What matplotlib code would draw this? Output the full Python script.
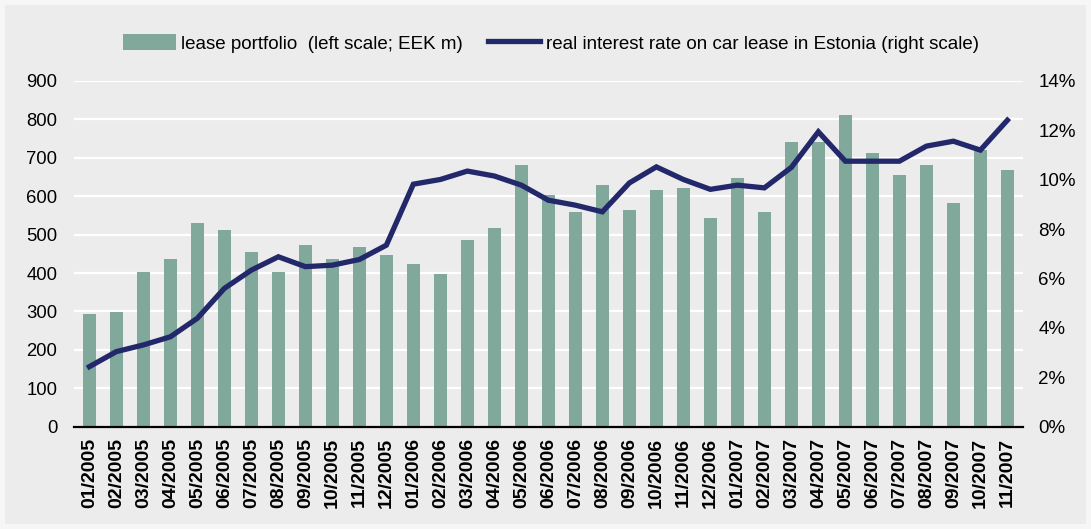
import numpy as np
import matplotlib.pyplot as plt
from matplotlib.ticker import FuncFormatter

# months shown on the x axis
months = ["01/2005", "02/2005", "03/2005", "04/2005", "05/2005", "06/2005",
          "07/2005", "08/2005", "09/2005", "10/2005", "11/2005", "12/2005",
          "01/2006", "02/2006", "03/2006", "04/2006", "05/2006", "06/2006",
          "07/2006", "08/2006", "09/2006", "10/2006", "11/2006", "12/2006",
          "01/2007", "02/2007", "03/2007", "04/2007", "05/2007", "06/2007",
          "07/2007", "08/2007", "09/2007", "10/2007", "11/2007"]

# lease portfolio, EEK m (left scale)
portfolio = [293, 298, 402, 436, 530, 512, 454, 402, 473, 436, 467, 447,
             423, 397, 486, 517, 681, 603, 558, 629, 564, 616, 621, 543,
             647, 558, 741, 741, 811, 712, 655, 681, 582, 720, 668]

# real interest rate on car lease, % (right scale)
rate = [2.43, 3.04, 3.31, 3.64, 4.39, 5.6, 6.34, 6.88, 6.48, 6.54, 6.77, 7.35,
        9.82, 10.01, 10.35, 10.15, 9.78, 9.17, 8.97, 8.70, 9.87, 10.52, 10.01, 9.61,
        9.78, 9.67, 10.5, 11.94, 10.75, 10.75, 10.75, 11.36, 11.56, 11.2, 12.41]

bg = "#ECECEC"
bar_col = "#80A99C"
line_col = "#23286B"

plt.rcParams['font.family'] = ['Liberation Sans', 'DejaVu Sans']

fig = plt.figure(figsize=(10.91, 5.29), dpi=100, facecolor=bg)
fig.patch.set_edgecolor('#F6F6F6')
fig.patch.set_linewidth(6)
ax = fig.add_axes([0.0678, 0.1934, 0.8699, 0.6536], facecolor=bg)
x = np.arange(len(months))

ax.bar(x, portfolio, width=0.48, color=bar_col, zorder=2,
       label="lease portfolio  (left scale; EEK m)")
ax.set_ylim(0, 900)
ax.set_yticks(np.arange(0, 901, 100))
ax.set_xlim(-0.57, len(months) - 0.42)
ax.set_xticks(x)
ax.set_xticklabels(months, rotation=90, fontweight='bold')
ax.grid(axis='y', color='white', linewidth=1.6, zorder=0)
ax.set_axisbelow(True)
ax.tick_params(axis='both', length=0)
ax.tick_params(axis='y', labelsize=13.3, pad=12)
ax.tick_params(axis='x', labelsize=14, pad=8)
for s in ['top', 'left', 'right']:
    ax.spines[s].set_visible(False)
ax.spines['bottom'].set_color('black')
ax.spines['bottom'].set_linewidth(1.6)
ax.spines['bottom'].set_zorder(4)

ax2 = ax.twinx()
ax2.plot(x, rate, color=line_col, linewidth=3.8, solid_joinstyle='miter', zorder=3,
         label="real interest rate on car lease in Estonia (right scale)")
ax2.set_ylim(0, 14)
ax2.set_yticks(np.arange(0, 15, 2))
ax2.yaxis.set_major_formatter(FuncFormatter(lambda v, p: f"{v:.0f}%"))
ax2.tick_params(axis='y', length=0, labelsize=13.5, pad=11)
for s in ['top', 'left', 'right', 'bottom']:
    ax2.spines[s].set_visible(False)

h1, l1 = ax.get_legend_handles_labels()
h2, l2 = ax2.get_legend_handles_labels()
fig.legend(h1 + h2, l1 + l2, loc='center', bbox_to_anchor=(0.505, 0.918), ncol=2,
           frameon=False, fontsize=13.5, handlelength=2.8, handleheight=0.9,
           handletextpad=0.3, columnspacing=1.3)

fig.savefig("out.png", dpi=100, facecolor=bg, edgecolor=fig.get_edgecolor())
